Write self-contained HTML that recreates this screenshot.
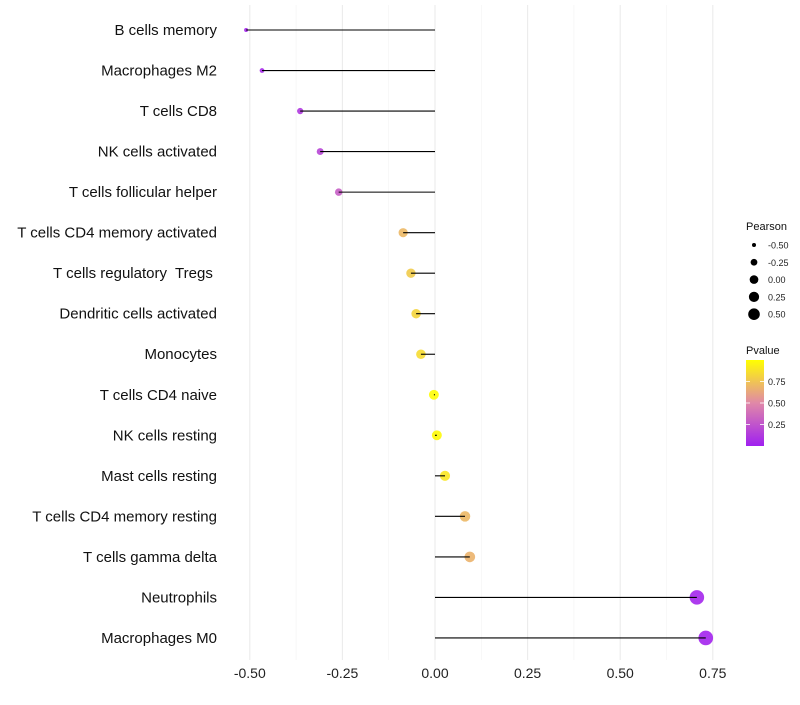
<!DOCTYPE html>
<html><head><meta charset="utf-8"><style>body{margin:0;background:#fff}svg{font-family:"Liberation Sans",sans-serif}text{white-space:pre}</style></head>
<body>
<svg id="c" width="800" height="700"></svg>
<script>
const categories=["B cells memory","Macrophages M2","T cells CD8","NK cells activated","T cells follicular helper","T cells CD4 memory activated","T cells regulatory  Tregs ","Dendritic cells activated","Monocytes","T cells CD4 naive","NK cells resting","Mast cells resting","T cells CD4 memory resting","T cells gamma delta","Neutrophils","Macrophages M0"];
const pearson=[-0.51,-0.467,-0.364,-0.31,-0.26,-0.086,-0.065,-0.051,-0.038,-0.003,0.005,0.027,0.081,0.094,0.707,0.731];
const pvalue=[0.03,0.05,0.12,0.18,0.3,0.7,0.78,0.82,0.85,0.99,0.98,0.9,0.7,0.68,0.03,0.02];
const xTicks=[-0.5,-0.25,0,0.25,0.5,0.75];
const xTickLabels=["-0.50","-0.25","0.00","0.25","0.50","0.75"];
const sizeLegend=[-0.5,-0.25,0,0.25,0.5];
const sizeLegendLabels=["-0.50","-0.25","0.00","0.25","0.50"];
const pLegend=[0.25,0.5,0.75];
const NS="http://www.w3.org/2000/svg",svg=document.getElementById('c');
function el(t,a,p){const e=document.createElementNS(NS,t);for(const k in a)e.setAttribute(k,a[k]);(p||svg).appendChild(e);return e;}
const x=v=>435+v*370.4;
const y=i=>30+i*40.53;
const r=v=>Math.sqrt(Math.max(1,4+40*(v+0.51)));
const rl=v=>Math.sqrt(Math.max(1,4+29.6*(v+0.5)));
function lerp(a,b,t){return a.map((c,i)=>Math.round(c+(b[i]-c)*t));}
function col(p){const A=[160,32,240],M=[224,136,168],B=[255,255,0];const c=p<0.5?lerp(A,M,p/0.5):lerp(M,B,(p-0.5)/0.5);return `rgb(${c})`;}
for(let i=0;i<xTicks.length;i++){
 let g=el('line',{x1:x(xTicks[i]),x2:x(xTicks[i]),y1:5,y2:660,stroke:'#ebebeb','stroke-width':1.1});
 
 if(i<xTicks.length-1){let m=el('line',{x1:x(xTicks[i]+0.125),x2:x(xTicks[i]+0.125),y1:5,y2:660,stroke:'#f3f3f3','stroke-width':0.6});
 }
 let t=el('text',{x:x(xTicks[i]),y:678,'text-anchor':'middle','font-size':14,fill:'#222'});t.textContent=xTickLabels[i];
 
}
for(let i=0;i<categories.length;i++){
 let t=el('text',{x:217,y:y(i)+5,'text-anchor':'end','font-size':15,fill:'#111'});t.textContent=categories[i];
 
 let c=el('circle',{cx:x(pearson[i]),cy:y(i),r:r(pearson[i]),fill:col(pvalue[i]),'fill-opacity':0.9});
 
 let l=el('line',{x1:x(0),x2:x(pearson[i]),y1:y(i),y2:y(i),stroke:'#000','stroke-width':1.1});
 
}
let lt=el('text',{x:746,y:230,'font-size':11,fill:'#111'});lt.textContent='Pearson';

sizeLegend.forEach((v,i)=>{const yy=245+i*17.3;
 let c=el('circle',{cx:754,cy:yy,r:rl(v),fill:'#000'});
 let t=el('text',{x:768,y:yy+3.5,'font-size':9,fill:'#222'});t.textContent=sizeLegendLabels[i];
 });
let pt=el('text',{x:746,y:354,'font-size':11,fill:'#111'});pt.textContent='Pvalue';

const defs=el('defs',{});const gr=el('linearGradient',{id:'g',x1:0,y1:1,x2:0,y2:0},defs);
[0,0.25,0.5,0.75,1].forEach(p=>el('stop',{offset:p,'stop-color':col(p)},gr));
let bar=el('rect',{x:746,y:360,width:18,height:86,fill:'url(#g)'});

pLegend.forEach(p=>{const yy=446-p*86;
 el('line',{x1:746,x2:750,y1:yy,y2:yy,stroke:'#fff','stroke-width':0.8});el('line',{x1:760,x2:764,y1:yy,y2:yy,stroke:'#fff','stroke-width':0.8});
 let t=el('text',{x:768,y:yy+3.5,'font-size':9,fill:'#222'});t.textContent=p.toFixed(2);
 });
</script>
</body></html>
